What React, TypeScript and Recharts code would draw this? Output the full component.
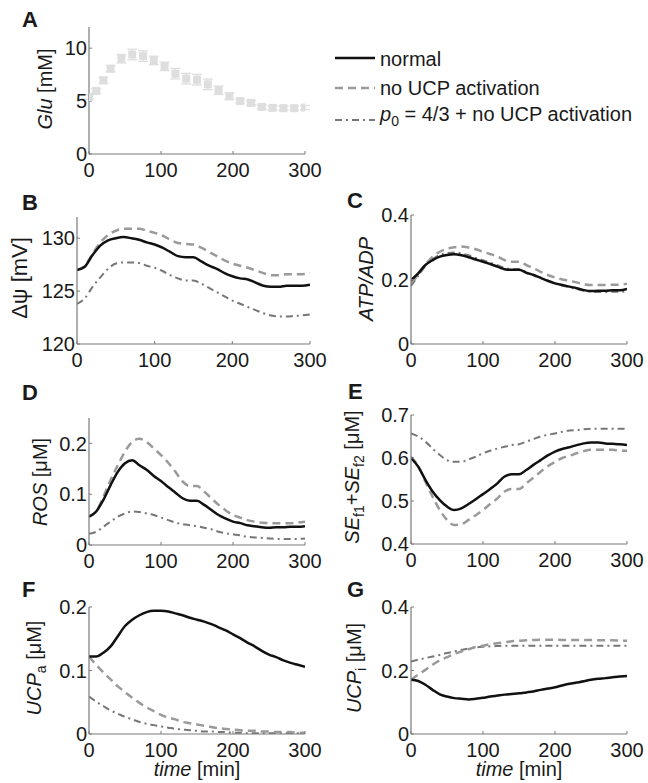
import React from 'react';
import { ComposedChart, Line, Scatter, ErrorBar, XAxis, YAxis } from 'recharts';

// ---------- data ----------
const TIME = [0,10,20,30,40,50,60,70,80,90,100,110,120,130,140,150,160,170,180,190,200,210,220,230,240,250,260,270,280,290,300];

const GLU_T = [0,10,20,30,45,60,75,90,105,120,135,150,165,180,195,210,225,240,255,270,285,300];
const GLU_V = [5.39,5.96,6.96,8.06,9.0,9.4,9.25,8.84,8.28,7.59,7.12,7.02,6.58,6.02,5.45,5.0,4.83,4.45,4.36,4.33,4.33,4.39];
const GLU_E = [0.2,0.2,0.3,0.3,0.4,0.5,0.5,0.4,0.4,0.5,0.5,0.5,0.5,0.4,0.3,0.2,0.2,0.2,0.2,0.2,0.2,0.2];

const PSI_NORMAL = [127.0,127.3,128.4,129.3,129.8,130.0,130.1,130.0,129.85,129.6,129.4,129.1,128.7,128.3,128.2,128.2,127.8,127.4,127.1,126.7,126.4,126.2,126.1,125.8,125.5,125.4,125.4,125.5,125.5,125.5,125.6];
const PSI_NOUCP = [127.0,127.4,128.5,129.6,130.3,130.7,130.9,130.9,130.9,130.7,130.5,130.25,129.85,129.55,129.45,129.4,129.1,128.7,128.3,127.9,127.6,127.4,127.2,126.95,126.7,126.5,126.5,126.6,126.6,126.6,126.7];
const PSI_P0 = [123.8,124.3,125.4,126.3,127.1,127.6,127.7,127.7,127.65,127.4,127.2,126.9,126.5,126.2,126.0,126.0,125.7,125.3,124.9,124.5,124.1,123.8,123.5,123.2,122.9,122.7,122.6,122.6,122.65,122.7,122.8];

const ATP_NORMAL = [0.198,0.219,0.245,0.26,0.271,0.276,0.278,0.275,0.269,0.262,0.255,0.248,0.24,0.232,0.23,0.23,0.221,0.214,0.205,0.196,0.188,0.183,0.178,0.173,0.167,0.164,0.165,0.165,0.167,0.167,0.171];
const ATP_NOUCP = [0.19,0.214,0.245,0.271,0.286,0.295,0.3,0.302,0.299,0.294,0.286,0.279,0.271,0.26,0.255,0.255,0.245,0.235,0.224,0.214,0.206,0.2,0.196,0.191,0.185,0.183,0.183,0.183,0.184,0.184,0.187];
const ATP_P0 = [0.18,0.211,0.242,0.263,0.276,0.282,0.284,0.281,0.275,0.267,0.26,0.252,0.244,0.236,0.232,0.232,0.223,0.215,0.206,0.196,0.188,0.181,0.176,0.17,0.165,0.162,0.161,0.161,0.162,0.162,0.164];

const ROS_NORMAL = [0.056,0.066,0.089,0.118,0.144,0.161,0.167,0.157,0.148,0.136,0.126,0.114,0.103,0.092,0.087,0.087,0.079,0.069,0.059,0.052,0.046,0.043,0.039,0.037,0.035,0.034,0.035,0.035,0.036,0.036,0.037];
const ROS_NOUCP = [0.056,0.066,0.095,0.128,0.157,0.184,0.203,0.209,0.203,0.19,0.177,0.162,0.144,0.125,0.116,0.116,0.105,0.092,0.079,0.068,0.059,0.054,0.049,0.046,0.044,0.043,0.043,0.043,0.043,0.044,0.046];
const ROS_P0 = [0.022,0.026,0.036,0.046,0.056,0.062,0.066,0.065,0.062,0.059,0.054,0.049,0.044,0.041,0.039,0.037,0.034,0.031,0.026,0.023,0.021,0.019,0.016,0.015,0.014,0.013,0.012,0.012,0.012,0.012,0.013];

const SE_NORMAL = [0.6,0.58,0.549,0.522,0.502,0.487,0.479,0.483,0.493,0.504,0.516,0.528,0.541,0.557,0.562,0.562,0.572,0.584,0.595,0.606,0.615,0.621,0.625,0.63,0.634,0.636,0.636,0.634,0.633,0.632,0.63];
const SE_NOUCP = [0.603,0.581,0.545,0.51,0.479,0.456,0.444,0.446,0.456,0.467,0.479,0.493,0.506,0.522,0.528,0.528,0.541,0.554,0.568,0.581,0.591,0.6,0.605,0.611,0.616,0.619,0.619,0.619,0.619,0.617,0.617];
const SE_P0 = [0.657,0.65,0.638,0.622,0.607,0.595,0.591,0.591,0.597,0.603,0.611,0.617,0.622,0.626,0.63,0.632,0.638,0.644,0.65,0.654,0.657,0.661,0.664,0.665,0.667,0.668,0.668,0.668,0.668,0.668,0.668];

const UCPA_NORMAL = [0.122,0.122,0.128,0.138,0.154,0.17,0.18,0.187,0.192,0.194,0.194,0.193,0.19,0.187,0.183,0.18,0.177,0.173,0.168,0.163,0.157,0.151,0.144,0.138,0.131,0.125,0.121,0.116,0.112,0.109,0.106];
const UCPA_NOUCP = [0.122,0.109,0.097,0.086,0.075,0.066,0.057,0.049,0.042,0.036,0.03,0.026,0.023,0.019,0.017,0.015,0.013,0.011,0.009,0.008,0.007,0.006,0.005,0.005,0.004,0.004,0.003,0.003,0.003,0.002,0.002];
const UCPA_P0 = [0.059,0.051,0.044,0.037,0.032,0.027,0.023,0.019,0.016,0.014,0.012,0.01,0.008,0.007,0.006,0.005,0.004,0.004,0.003,0.003,0.002,0.002,0.001,0.001,0.001,0.001,0.001,0.001,0.001,0.001,0.001];

const UCPI_NORMAL = [0.171,0.167,0.155,0.139,0.125,0.118,0.113,0.111,0.109,0.111,0.114,0.118,0.121,0.124,0.126,0.128,0.131,0.134,0.139,0.143,0.147,0.153,0.158,0.162,0.166,0.171,0.174,0.176,0.179,0.181,0.183];
const UCPI_NOUCP = [0.171,0.187,0.202,0.218,0.232,0.242,0.252,0.26,0.267,0.274,0.278,0.283,0.286,0.289,0.292,0.294,0.295,0.296,0.297,0.297,0.297,0.296,0.296,0.296,0.296,0.296,0.295,0.295,0.295,0.294,0.294];
const UCPI_P0 = [0.228,0.234,0.239,0.244,0.249,0.255,0.26,0.265,0.269,0.273,0.275,0.276,0.277,0.278,0.278,0.278,0.278,0.278,0.278,0.278,0.278,0.278,0.278,0.278,0.278,0.278,0.278,0.278,0.278,0.278,0.278];

const X_TICKS = [0, 100, 200, 300];
const LEGEND_LABELS = ['normal', 'no UCP activation', '= 4/3 + no UCP activation'];

// ---------- styles ----------
const FONT = '"Liberation Sans", Arial, Helvetica, sans-serif';
const AXIS = '#7a7a7a';
const TXT = '#1a1a1a';
const C_NORMAL = '#111111';
const C_NOUCP = '#9a9a9a';
const C_P0 = '#777777';
const DASH = '8 5';
const DASHDOT = '7 4 2 4';

const MT = 12, MR = 20, XH = 40;

function rows(a: number[], b: number[], c: number[]) {
  return TIME.map((t, i) => ({ t, normal: a[i], noucp: b[i], p0: c[i] }));
}

type Box = { x0: number; x1: number; y0: number; y1: number };

function YLab({ bx, cy, left, top, size, children }: any) {
  const x = bx - left, y = cy - top;
  return (
    <text transform={`translate(${x},${y}) rotate(-90)`} x={0} y={0} textAnchor="middle" fontSize={size || 20} fill={TXT} fontFamily={FONT}>
      {children}
    </text>
  );
}

function Panel({ box, col, data, domain, yticks, label, bx, cy, glu, lsize }: any) {
  const w = box.x1 - box.x0, h = box.y1 - box.y0;
  const left = col, top = box.y0 - MT;
  const YW = box.x0 - left;
  return (
    <div style={{ position: 'absolute', left, top }}>
      <ComposedChart width={YW + w + MR} height={MT + h + XH} data={data} margin={{ top: MT, right: MR, left: 0, bottom: 0 }}>
        <XAxis dataKey="t" type="number" domain={[0, 300]} ticks={X_TICKS} interval={0} height={XH}
          tickSize={-3} tickMargin={12} axisLine={{ stroke: AXIS, strokeWidth: 1.2 }} tickLine={{ stroke: AXIS }}
          tick={{ fontSize: 20, fill: TXT, fontFamily: FONT }} allowDataOverflow />
        <YAxis type="number" domain={domain} ticks={yticks} interval={0} width={YW}
          tickSize={-3} tickMargin={5} axisLine={{ stroke: AXIS, strokeWidth: 1.2 }} tickLine={{ stroke: AXIS }}
          tick={{ fontSize: 20, fill: TXT, fontFamily: FONT }} allowDataOverflow
          label={<YLab bx={bx} cy={cy} left={left} top={top} size={lsize}>{label}</YLab>} />
        {glu ? (
          <Scatter dataKey="v" isAnimationActive={false}
            shape={(p: any) => <rect x={p.cx - 4} y={p.cy - 4} width={8} height={8} fill="#dedede" />}>
            <ErrorBar dataKey="err" direction="y" width={5} stroke="#dedede" strokeWidth={1.3} isAnimationActive={false} />
          </Scatter>
        ) : null}
        {!glu ? <Line type="monotone" dataKey="p0" stroke={C_P0} strokeWidth={2} strokeDasharray={DASHDOT} dot={false} isAnimationActive={false} /> : null}
        {!glu ? <Line type="monotone" dataKey="noucp" stroke={C_NOUCP} strokeWidth={2.5} strokeDasharray={DASH} dot={false} isAnimationActive={false} /> : null}
        {!glu ? <Line type="monotone" dataKey="normal" stroke={C_NORMAL} strokeWidth={2.5} dot={false} isAnimationActive={false} /> : null}
      </ComposedChart>
    </div>
  );
}

const BOX_A: Box = { x0: 89, x1: 305, y0: 27, y1: 154 };
const BOX_B: Box = { x0: 77, x1: 310, y0: 217, y1: 344 };
const BOX_C: Box = { x0: 411, x1: 627, y0: 215, y1: 344 };
const BOX_D: Box = { x0: 89, x1: 305, y0: 418, y1: 545 };
const BOX_E: Box = { x0: 411, x1: 627, y0: 415, y1: 544 };
const BOX_F: Box = { x0: 89, x1: 305, y0: 607, y1: 734 };
const BOX_G: Box = { x0: 411, x1: 627, y0: 607, y1: 734 };
const COL_L = 0, COL_R = 330;

const sub = (s: string) => <tspan fontSize={14} dy={5}>{s}</tspan>;

export default function App() {
  const glu = GLU_T.map((t, i) => ({ t, v: GLU_V[i], err: GLU_E[i] }));
  const letters: [string, number, number][] = [
    ['A', 22, 27], ['B', 22, 210], ['C', 347, 208], ['D', 22, 400], ['E', 348, 399], ['F', 22, 597], ['G', 347, 597],
  ];
  return (
    <div style={{ position: 'absolute', left: 0, top: 0, width: 648, height: 783, background: '#fff', fontFamily: FONT }}>
      <Panel box={BOX_A} col={COL_L} data={glu} domain={[0, 12]} yticks={[0, 5, 10]} glu bx={52} cy={89}
        label={<><tspan fontStyle="italic">Glu</tspan><tspan> [mM]</tspan></>} />
      <Panel box={BOX_B} col={COL_L} data={rows(PSI_NORMAL, PSI_NOUCP, PSI_P0)} domain={[120, 132]} yticks={[120, 125, 130]} bx={27} cy={278} lsize={22}
        label={<tspan>Δψ [mV]</tspan>} />
      <Panel box={BOX_C} col={COL_R} data={rows(ATP_NORMAL, ATP_NOUCP, ATP_P0)} domain={[0, 0.4]} yticks={[0, 0.2, 0.4]} bx={373} cy={279}
        label={<tspan fontStyle="italic">ATP/ADP</tspan>} />
      <Panel box={BOX_D} col={COL_L} data={rows(ROS_NORMAL, ROS_NOUCP, ROS_P0)} domain={[0, 0.25]} yticks={[0, 0.1, 0.2]} bx={47} cy={482}
        label={<><tspan fontStyle="italic">ROS</tspan><tspan> [μM]</tspan></>} />
      <Panel box={BOX_E} col={COL_R} data={rows(SE_NORMAL, SE_NOUCP, SE_P0)} domain={[0.4, 0.7]} yticks={[0.4, 0.5, 0.6, 0.7]} bx={359} cy={477}
        label={<><tspan fontStyle="italic">SE</tspan>{sub('f1')}<tspan dy={-5}>+</tspan><tspan fontStyle="italic">SE</tspan>{sub('f2')}<tspan dy={-5}> [μM]</tspan></>} />
      <Panel box={BOX_F} col={COL_L} data={rows(UCPA_NORMAL, UCPA_NOUCP, UCPA_P0)} domain={[0, 0.2]} yticks={[0, 0.1, 0.2]} bx={41} cy={668}
        label={<><tspan fontStyle="italic">UCP</tspan>{sub('a')}<tspan dy={-5}> [μM]</tspan></>} />
      <Panel box={BOX_G} col={COL_R} data={rows(UCPI_NORMAL, UCPI_NOUCP, UCPI_P0)} domain={[0, 0.4]} yticks={[0, 0.2, 0.4]} bx={361} cy={668}
        label={<><tspan fontStyle="italic">UCP</tspan>{sub('i')}<tspan dy={-5}> [μM]</tspan></>} />

      <svg width={648} height={783} style={{ position: 'absolute', left: 0, top: 0, pointerEvents: 'none' }} fontFamily={FONT}>
        {letters.map(([l, x, y]) => (
          <text key={l} x={x} y={y} fontSize={22} fontWeight="bold" fill={TXT}>{l}</text>
        ))}
        <text x={(BOX_F.x0 + BOX_F.x1) / 2} y={776} textAnchor="middle" fontSize={20} fill={TXT}>
          <tspan fontStyle="italic">time</tspan><tspan> [min]</tspan>
        </text>
        <text x={(BOX_G.x0 + BOX_G.x1) / 2} y={776} textAnchor="middle" fontSize={20} fill={TXT}>
          <tspan fontStyle="italic">time</tspan><tspan> [min]</tspan>
        </text>
        {/* legend */}
        <line x1={335} x2={375} y1={58} y2={58} stroke={C_NORMAL} strokeWidth={2.5} />
        <text x={380} y={66} fontSize={20} fill={TXT}>{LEGEND_LABELS[0]}</text>
        <line x1={335} x2={375} y1={88} y2={88} stroke={C_NOUCP} strokeWidth={2.5} strokeDasharray={DASH} />
        <text x={380} y={95} fontSize={20} fill={TXT}>{LEGEND_LABELS[1]}</text>
        <line x1={335} x2={375} y1={120} y2={120} stroke={C_P0} strokeWidth={2} strokeDasharray={DASHDOT} />
        <text x={380} y={121} fontSize={20} fill={TXT}>
          <tspan fontStyle="italic">p</tspan><tspan fontSize={14} dy={5}>0</tspan><tspan dy={-5}> {LEGEND_LABELS[2]}</tspan>
        </text>
      </svg>
    </div>
  );
}
